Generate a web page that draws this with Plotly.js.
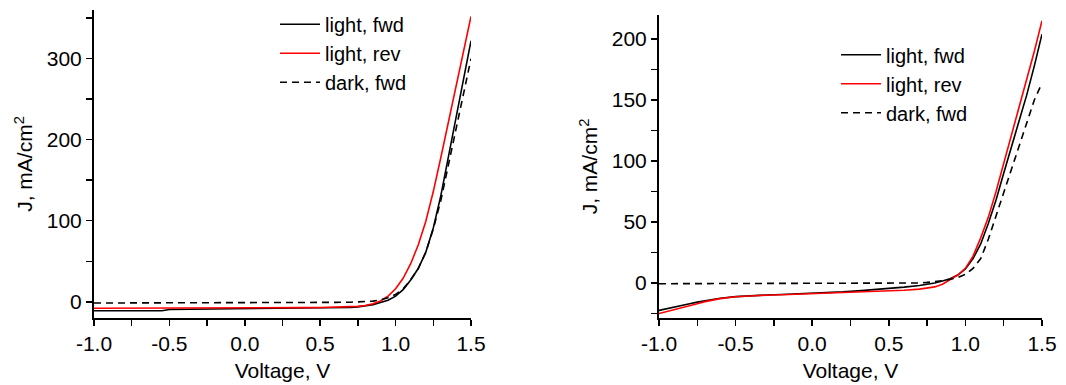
<!DOCTYPE html>
<html>
<head>
<meta charset="utf-8">
<script src="https://cdn.plot.ly/plotly-3.0.1.min.js"></script>
<style>html,body{margin:0;padding:0;background:#fff;}#chart{width:1066px;height:385px;}</style>
</head>
<body>
<div id="chart"></div>
<script>
// ---- Left panel data ----
const voltageLeft = [-1.0,-0.9,-0.8,-0.7,-0.6,-0.55,-0.5,-0.4,-0.3,-0.2,-0.1,0,0.1,0.2,0.3,0.4,0.5,0.6,0.7,0.75,0.8,0.85,0.9,0.95,1.0,1.05,1.1,1.15,1.2,1.25,1.3,1.35,1.4,1.45,1.5];
const lightFwdLeft = [-11,-11,-11,-11,-11,-11,-9.5,-9.3,-9.2,-9.1,-9,-8.9,-8.8,-8.6,-8.4,-8.2,-8,-7.7,-7,-6.3,-5.2,-3.5,-1,2,7,15,27,41,61,91,131,178,225,272,322];
const lightRevLeft = [-8,-8,-8,-8,-8,-8,-8,-7.9,-7.8,-7.8,-7.7,-7.6,-7.5,-7.4,-7.3,-7.2,-7,-6.8,-6.2,-5.6,-4.5,-2.5,1,7,16,29,47,70,99,136,178,222,265,309,352];
const darkFwdLeft = [-1.5,-1.5,-1.5,-1.5,-1.5,-1.5,-1.4,-1.3,-1.3,-1.2,-1.2,-1.1,-1.1,-1,-1,-0.9,-0.8,-0.7,-0.5,-0.3,0,0.8,2.5,5,9,16,27,41,61,90,125,168,212,256,300];

// ---- Right panel data ----
const voltageRight = [-1.0,-0.95,-0.9,-0.85,-0.8,-0.75,-0.7,-0.6,-0.5,-0.4,-0.3,-0.2,-0.1,0,0.1,0.2,0.3,0.4,0.5,0.6,0.7,0.75,0.8,0.85,0.9,0.95,1.0,1.05,1.1,1.15,1.2,1.25,1.3,1.35,1.4,1.45,1.5];
const lightFwdRight = [-22.5,-21,-19.8,-18.3,-17,-15.7,-14.5,-12.5,-11.2,-10.3,-9.8,-9.4,-9,-8.6,-8,-7.3,-6.5,-5.6,-4.6,-3.4,-2,-1.2,0,1.6,3.5,6.5,11.5,20,32,49,68,90,111,132,154,178,204];
const lightRevRight = [-25,-23.5,-22,-20.3,-18.5,-17,-15.3,-12.8,-11.3,-10.5,-10,-9.6,-9.2,-8.8,-8.4,-8,-7.6,-7.1,-6.6,-6,-5,-4.3,-3.2,-1,2.5,6.5,12,22,37,54,75,98,120,142,166,190,215];
const darkFwdRight = [-0.6,-0.6,-0.6,-0.6,-0.5,-0.5,-0.5,-0.5,-0.4,-0.4,-0.4,-0.3,-0.3,-0.3,-0.3,-0.2,-0.2,-0.2,-0.2,-0.1,0,0.5,1,1.8,3,4.5,7,12,20,36,55,74,94,113,132,150,164];

const seriesNames = ['light, fwd', 'light, rev', 'dark, fwd'];
const xTickVals = [-1.0,-0.5,0.0,0.5,1.0,1.5];
const xTickText = ['-1.0','-0.5','0.0','0.5','1.0','1.5'];
const xTitle = 'Voltage, V';
const yTitle = 'J, mA/cm<sup>2</sup>';

const FONT = 'Liberation Sans, Arial, sans-serif';
const FS = 21;
const styles = [
  {color:'#000000', width:1.6, dash:'solid'},
  {color:'#ff0000', width:1.6, dash:'solid'},
  {color:'#000000', width:1.6, dash:'7px,5px'}
];

const leftY = [lightFwdLeft, lightRevLeft, darkFwdLeft];
const rightY = [lightFwdRight, lightRevRight, darkFwdRight];
const traces = [];
leftY.forEach((ys, i) => traces.push({
  x: voltageLeft, y: ys, type:'scatter', mode:'lines', name: seriesNames[i],
  line: styles[i], xaxis:'x', yaxis:'y', legend:'legend'
}));
rightY.forEach((ys, i) => traces.push({
  x: voltageRight, y: ys, type:'scatter', mode:'lines', name: seriesNames[i],
  line: styles[i], xaxis:'x2', yaxis:'y2', legend:'legend2'
}));

function xAxis(domain, anchor) {
  return {
    domain: domain, anchor: anchor, range:[-1.0, 1.5],
    tickmode:'array', tickvals: xTickVals, ticktext: xTickText,
    ticks:'outside', ticklen:6, tickwidth:1.5, tickcolor:'#000',
    minor:{dtick:0.25, tick0:0, ticks:'outside', ticklen:6, tickwidth:1.5, tickcolor:'#000', showgrid:false},
    showline:true, linecolor:'#000', linewidth:2, mirror:false,
    showgrid:false, zeroline:false, automargin:'bottom',
    tickfont:{family:FONT, size:FS, color:'#000'},
    title:{text:xTitle, font:{family:FONT, size:FS, color:'#000'}, standoff:9}
  };
}
function yAxis(domain, anchor, range, dtick, minorDtick) {
  return {
    domain: domain, anchor: anchor, range: range,
    tickmode:'linear', tick0:0, dtick:dtick,
    ticks:'outside', ticklen:6, tickwidth:1.5, tickcolor:'#000',
    minor:{dtick:minorDtick, tick0:0, ticks:'outside', ticklen:6, tickwidth:1.5, tickcolor:'#000', showgrid:false},
    showline:true, linecolor:'#000', linewidth:2, mirror:false,
    showgrid:false, zeroline:false, automargin:false,
    tickfont:{family:FONT, size:FS, color:'#000'},
    title:{text:yTitle, font:{family:FONT, size:FS, color:'#000'}, standoff:8}
  };
}

const legendStyle = {
  font:{family:FONT, size:20, color:'#000'},
  bgcolor:'rgba(0,0,0,0)', borderwidth:0,
  xanchor:'left', yanchor:'top', tracegroupgap:0, itemwidth:40
};

const layout = {
  width:1066, height:385,
  margin:{l:0, r:0, t:10, b:67, pad:0},
  paper_bgcolor:'#fff', plot_bgcolor:'#fff',
  font:{family:FONT, size:FS, color:'#000'},
  xaxis: xAxis([94/1066, 471/1066], 'y'),
  yaxis: yAxis([0, 1], 'x', [-20, 360], 100, 50),
  xaxis2: xAxis([659/1066, 1042/1066], 'y2'),
  yaxis2: yAxis([0, 303/308], 'x2', [-28.7, 219.7], 50, 25),
  legend: Object.assign({x:275/1066, y:1.017}, legendStyle),
  legend2: Object.assign({x:836/1066, y:0.918}, legendStyle),
  showlegend:true
};

Plotly.newPlot('chart', traces, layout, {staticPlot:true, displayModeBar:false});
</script>
</body>
</html>
